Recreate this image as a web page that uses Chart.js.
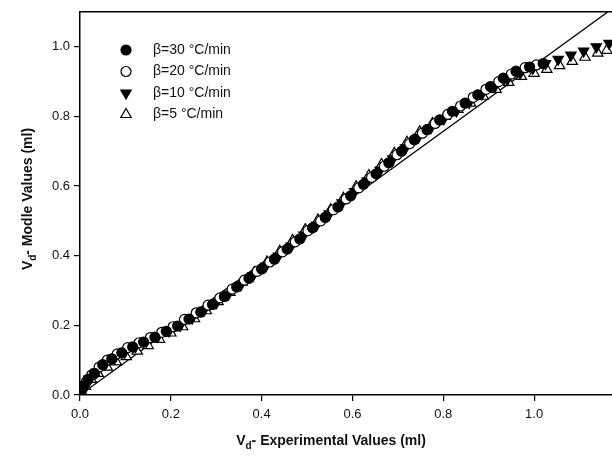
<!DOCTYPE html>
<html>
<head>
<meta charset="utf-8">
<script src="https://cdn.jsdelivr.net/npm/chart.js@4.4.0/dist/chart.umd.min.js"></script>
<style>
  body { margin: 0; overflow: hidden; background: #fff; }
</style>
</head>
<body>
<canvas id="myChart" width="640" height="461"></canvas>
<script>
// heating rates
const seriesLabels = ['β=30 °C/min', 'β=20 °C/min', 'β=10 °C/min', 'β=5 °C/min'];

// beta = 30
const x30 = [0, 0.003, 0.008, 0.018, 0.032, 0.05, 0.07, 0.092, 0.116, 0.14, 0.165, 0.19, 0.215, 0.24, 0.266, 0.292, 0.318, 0.345, 0.372, 0.4, 0.428, 0.456, 0.484, 0.512, 0.54, 0.568, 0.596, 0.624, 0.652, 0.68, 0.708, 0.736, 0.764, 0.792, 0.82, 0.848, 0.876, 0.904, 0.932, 0.96, 0.99, 1.02];
const y30 = [0, 0.012, 0.025, 0.045, 0.062, 0.087, 0.104, 0.121, 0.138, 0.152, 0.166, 0.183, 0.198, 0.218, 0.238, 0.26, 0.283, 0.31, 0.335, 0.362, 0.39, 0.419, 0.448, 0.48, 0.51, 0.54, 0.572, 0.605, 0.635, 0.667, 0.7, 0.733, 0.762, 0.79, 0.815, 0.838, 0.862, 0.886, 0.91, 0.93, 0.942, 0.952];

// beta = 20
const x20 = [0, 0.002, 0.006, 0.014, 0.026, 0.042, 0.06, 0.082, 0.105, 0.13, 0.155, 0.18, 0.205, 0.23, 0.256, 0.282, 0.308, 0.335, 0.362, 0.39, 0.418, 0.446, 0.474, 0.502, 0.53, 0.558, 0.586, 0.614, 0.642, 0.67, 0.698, 0.726, 0.754, 0.782, 0.81, 0.838, 0.866, 0.894, 0.922, 0.95, 0.98, 1.005];
const y20 = [0, 0.008, 0.02, 0.038, 0.058, 0.08, 0.1, 0.118, 0.136, 0.15, 0.165, 0.18, 0.196, 0.217, 0.236, 0.258, 0.279, 0.304, 0.33, 0.355, 0.382, 0.411, 0.44, 0.472, 0.5, 0.532, 0.563, 0.595, 0.625, 0.657, 0.69, 0.722, 0.752, 0.78, 0.806, 0.83, 0.855, 0.878, 0.9, 0.922, 0.94, 0.948];

// beta = 10
const x10 = [0, 0.004, 0.01, 0.02, 0.036, 0.055, 0.076, 0.098, 0.122, 0.146, 0.171, 0.196, 0.221, 0.247, 0.273, 0.3, 0.327, 0.354, 0.381, 0.409, 0.437, 0.465, 0.493, 0.521, 0.549, 0.577, 0.605, 0.633, 0.661, 0.689, 0.717, 0.745, 0.773, 0.801, 0.829, 0.857, 0.885, 0.913, 0.941, 0.969, 0.997, 1.025, 1.053, 1.081, 1.109, 1.137, 1.165];
const y10 = [0, 0.015, 0.03, 0.046, 0.066, 0.088, 0.106, 0.122, 0.139, 0.154, 0.168, 0.184, 0.2, 0.221, 0.243, 0.265, 0.29, 0.316, 0.343, 0.37, 0.399, 0.428, 0.459, 0.488, 0.52, 0.552, 0.584, 0.615, 0.646, 0.678, 0.71, 0.74, 0.768, 0.793, 0.816, 0.84, 0.864, 0.886, 0.906, 0.924, 0.938, 0.952, 0.964, 0.976, 0.988, 1.0, 1.01];

// beta = 5
const x5 = [0, 0.003, 0.012, 0.025, 0.04, 0.06, 0.08, 0.102, 0.126, 0.15, 0.175, 0.2, 0.226, 0.252, 0.278, 0.304, 0.33, 0.357, 0.384, 0.412, 0.44, 0.468, 0.496, 0.524, 0.552, 0.58, 0.608, 0.636, 0.664, 0.692, 0.72, 0.748, 0.776, 0.804, 0.832, 0.86, 0.888, 0.916, 0.944, 0.972, 1.0, 1.028, 1.056, 1.084, 1.112, 1.14, 1.16];
const y5 = [0, 0.005, 0.025, 0.045, 0.062, 0.08, 0.095, 0.11, 0.126, 0.142, 0.16, 0.178, 0.196, 0.219, 0.242, 0.268, 0.295, 0.324, 0.352, 0.382, 0.413, 0.444, 0.475, 0.503, 0.532, 0.565, 0.598, 0.63, 0.662, 0.694, 0.726, 0.756, 0.78, 0.8, 0.82, 0.838, 0.858, 0.878, 0.898, 0.915, 0.924, 0.935, 0.946, 0.958, 0.97, 0.982, 0.99];

// reference line
const fitX = [0, 1.2];
const fitY = [0, 1.136];

const xTicks = [0, 0.2, 0.4, 0.6, 0.8, 1.0, 1.2];
const yTicks = [0, 0.2, 0.4, 0.6, 0.8, 1.0];

function toPoints(xs, ys) {
  return xs.map(function (v, i) { return { x: v, y: ys[i] }; });
}

const markers = [
  { pointStyle: 'circle', rotation: 0, radius: 5, fill: '#000' },
  { pointStyle: 'circle', rotation: 0, radius: 5, fill: '#fff' },
  { pointStyle: 'triangle', rotation: 180, radius: 6, fill: '#000' },
  { pointStyle: 'triangle', rotation: 0, radius: 6, fill: '#fff' }
];

const seriesData = [toPoints(x30, y30), toPoints(x20, y20), toPoints(x10, y10), toPoints(x5, y5)];

const datasets = seriesData.map(function (pts, i) {
  return {
    label: seriesLabels[i],
    data: pts,
    pointStyle: markers[i].pointStyle,
    rotation: markers[i].rotation,
    pointRadius: markers[i].radius,
    pointBackgroundColor: markers[i].fill,
    pointBorderColor: '#000',
    pointBorderWidth: 1.2,
    showLine: false
  };
});

datasets.push({
  label: 'fit',
  data: toPoints(fitX, fitY),
  showLine: true,
  borderColor: '#000',
  borderWidth: 1.3,
  pointRadius: 0
});

// legend drawn inside the plot, top-left
const innerLegend = {
  id: 'innerLegend',
  afterDatasetsDraw: function (chart) {
    const ctx = chart.ctx;
    ctx.save();
    for (let i = 0; i < seriesLabels.length; i++) {
      const y = 50 + i * 21.5;
      ctx.fillStyle = markers[i].fill;
      ctx.strokeStyle = '#000';
      ctx.lineWidth = 1.2;
      Chart.helpers.drawPoint(ctx, {
        pointStyle: markers[i].pointStyle,
        rotation: markers[i].rotation,
        radius: markers[i].radius,
        borderWidth: 1.2
      }, 126, y);
      ctx.fillStyle = '#111';
      ctx.font = '14px "Liberation Sans", Arial, sans-serif';
      ctx.textBaseline = 'middle';
      ctx.textAlign = 'left';
      ctx.fillText(seriesLabels[i], 153, y);
    }
    ctx.restore();
  }
};

// axis titles with subscript d
function drawTitle(ctx, main, rest, cx, cy, angle) {
  ctx.save();
  ctx.translate(cx, cy);
  ctx.rotate(angle);
  const big = 'bold 14px "Liberation Sans", Arial, sans-serif';
  const small = 'bold 10px "Liberation Sans", Arial, sans-serif';
  ctx.font = big;
  const w1 = ctx.measureText(main).width;
  const w3 = ctx.measureText(rest).width;
  ctx.font = small;
  const w2 = ctx.measureText('d').width;
  let x = -(w1 + w2 + w3) / 2;
  ctx.fillStyle = '#111';
  ctx.textBaseline = 'middle';
  ctx.textAlign = 'left';
  ctx.font = big;
  ctx.fillText(main, x, 0);
  x += w1;
  ctx.font = small;
  ctx.fillText('d', x, 5);
  x += w2;
  ctx.font = big;
  ctx.fillText(rest, x, 0);
  ctx.restore();
}

const axisTitles = {
  id: 'axisTitles',
  afterDraw: function (chart) {
    drawTitle(chart.ctx, 'V', '- Experimental Values (ml)', 331, 441, 0);
    drawTitle(chart.ctx, 'V', '- Modle Values (ml)', 28, 199, -Math.PI / 2);
  }
};

const tickFont = { family: '"Liberation Sans", Arial, sans-serif', size: 13 };

let myChart = document.getElementById('myChart').getContext('2d');
let scatterChart = new Chart(myChart, {
  type: 'scatter',
  data: { datasets: datasets },
  plugins: [innerLegend, axisTitles],
  options: {
    responsive: false,
    animation: false,
    layout: { padding: { left: 0, right: 10, top: 0, bottom: 0 } },
    plugins: {
      legend: { display: false },
      tooltip: { enabled: false }
    },
    scales: {
      x: {
        type: 'linear',
        position: 'bottom',
        min: 0,
        max: 1.2,
        afterBuildTicks: function (scale) {
          scale.ticks = xTicks.map(function (v) { return { value: v }; });
        },
        afterFit: function (scale) { scale.height = 66; },
        ticks: {
          color: '#111',
          font: tickFont,
          padding: 6,
          maxRotation: 0,
          callback: function (v) { return v.toFixed(1); }
        },
        grid: { display: true, drawOnChartArea: false, drawTicks: true, tickLength: 6, color: '#000', lineWidth: 1.2 },
        border: { display: true, color: '#000', width: 1.5 }
      },
      x2: {
        type: 'linear',
        position: 'top',
        min: 0,
        max: 1.2,
        afterFit: function (scale) { scale.height = 12; },
        ticks: { display: false },
        grid: { display: false, drawTicks: false },
        border: { display: true, color: '#000', width: 1.5 }
      },
      y: {
        type: 'linear',
        min: 0,
        max: 1.1,
        afterBuildTicks: function (scale) {
          scale.ticks = yTicks.map(function (v) { return { value: v }; });
        },
        afterFit: function (scale) { scale.width = 80; },
        ticks: {
          color: '#111',
          font: tickFont,
          padding: 4,
          callback: function (v) { return v.toFixed(1); }
        },
        grid: { display: true, drawOnChartArea: false, drawTicks: true, tickLength: 6, color: '#000', lineWidth: 1.2 },
        border: { display: true, color: '#000', width: 1.5 }
      }
    }
  }
});
</script>
</body>
</html>
